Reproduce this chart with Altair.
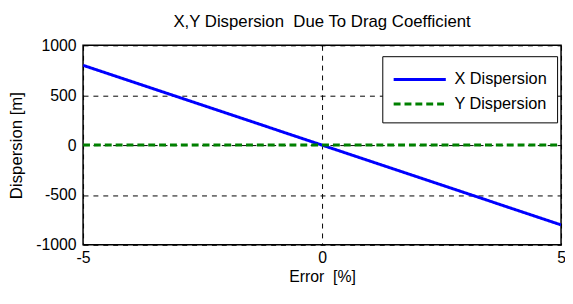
import altair as alt
import pandas as pd

error = [-5, -2.5, 0, 2.5, 5]
x_disp = [800, 400, 0, -400, -800]
y_disp = [0, 0, 0, 0, 0]
series = ["X Dispersion", "Y Dispersion"]

rows = []
for e, xv, yv in zip(error, x_disp, y_disp):
    rows.append({"Error": e, "Dispersion": xv, "Series": series[0]})
    rows.append({"Error": e, "Dispersion": yv, "Series": series[1]})
df = pd.DataFrame(rows)

FONT = "Liberation Sans"

legend = alt.Legend(title=None, orient="none", legendX=303, legendY=11,
                    symbolType="M-1,0H3.4", symbolSize=576, symbolStrokeWidth=3,
                    labelFontSize=16.5, labelFont=FONT, labelColor="black", padding=10,
                    rowPadding=3, strokeColor="black", fillColor="white",
                    labelOffset=36, labelLimit=250)

chart = alt.Chart(df).mark_line(strokeWidth=3, clip=True).encode(
    x=alt.X("Error:Q", scale=alt.Scale(domain=[-5, 5], nice=False),
            axis=alt.Axis(title="Error\u00a0 [%]", values=[-5, 0, 5],
                          labelExpr="'' + datum.value")),
    y=alt.Y("Dispersion:Q", scale=alt.Scale(domain=[-1000, 1000], nice=False),
            axis=alt.Axis(title="Dispersion [m]", values=[-1000, -500, 0, 500, 1000],
                          labelExpr="'' + datum.value")),
    color=alt.Color("Series:N", scale=alt.Scale(domain=series, range=["#0000ff", "#008000"]),
                    legend=legend),
    strokeDash=alt.StrokeDash("Series:N", scale=alt.Scale(domain=series, range=[[1, 0], [7, 4]]),
                              legend=legend),
).properties(
    width=484, height=202,
    title=alt.TitleParams("X,Y Dispersion\u00a0 Due To Drag Coefficient", fontSize=17,
                          fontWeight="normal", font=FONT, anchor="middle", offset=7, color="black"),
    autosize=alt.AutoSizeParams(type="none"),
    padding={"left": 76, "top": 36, "right": 4, "bottom": 50},
).configure_axis(
    grid=True, gridColor="black", gridDash=[5, 5], gridWidth=1, gridOpacity=1,
    domain=False, ticks=False, labelFontSize=16, labelFont=FONT, labelColor="black",
    titleFont=FONT, titleFontSize=16, titleFontWeight="normal", titleColor="black",
    labelFlush=False,
).configure_axisX(titlePadding=3, labelPadding=5).configure_axisY(
    titlePadding=10, labelPadding=7, titleFontSize=17
).configure_view(
    stroke="black", strokeWidth=1.5
)

chart.save("out.html", embed_options={"renderer": "svg", "actions": False})
